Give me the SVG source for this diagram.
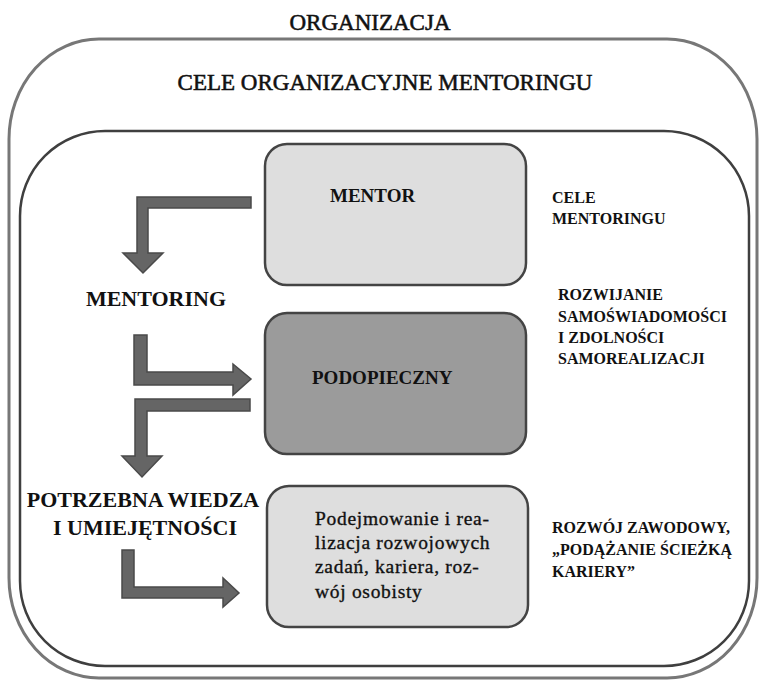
<svg xmlns="http://www.w3.org/2000/svg" width="760" height="681" viewBox="0 0 760 681">
<style>
.frame-outer{fill:none;stroke:#777;stroke-width:3}
.frame-inner{fill:none;stroke:#3f3f3f;stroke-width:2.5}
.box{stroke:#444;stroke-width:2.5}
.light{fill:#dedede}
.dark{fill:#9b9b9b}
.arrow{fill:#656565;stroke:#4a4a4a;stroke-width:1.5;stroke-linejoin:miter}
.title{font-family:"Liberation Serif",serif;font-size:23px;fill:#111;stroke:#111;stroke-width:0.55px;text-anchor:middle}
.lbl{font-family:"Liberation Serif",serif;font-weight:bold;fill:#111}
.big{font-size:22px}
.node{font-size:19px}
.side{font-size:16px}
.body{font-family:"Liberation Serif",serif;font-size:19.5px;letter-spacing:0.7px;fill:#111;stroke:#111;stroke-width:0.35px}
</style>
<rect id="organizacja-frame" class="frame-outer" x="9" y="39" width="748" height="639" rx="90" ry="100"/>
<rect id="cele-frame" class="frame-inner" x="20" y="131" width="729" height="535" rx="85" ry="85"/>
<text class="title" x="370" y="30">ORGANIZACJA</text>
<text class="title" x="385" y="90">CELE ORGANIZACYJNE MENTORINGU</text>

<g id="mentor">
<rect class="box light" x="265" y="144" width="261" height="141" rx="22"/>
<text class="lbl node" x="330" y="202">MENTOR</text>
</g>
<g id="podopieczny">
<rect class="box dark" x="265" y="313" width="261" height="141" rx="22"/>
<text class="lbl node" x="312" y="384">PODOPIECZNY</text>
</g>
<g id="zadania">
<rect class="box light" x="267" y="486" width="261" height="141" rx="22"/>
<text class="body" x="315" y="525">Podejmowanie i rea-</text>
<text class="body" x="315" y="549">lizacja rozwojowych</text>
<text class="body" x="315" y="573">zadań, kariera, roz-</text>
<text class="body" x="315" y="598">wój osobisty</text>
</g>

<g id="mentoring">
<text class="lbl big" x="156" y="306" text-anchor="middle">MENTORING</text>
</g>
<g id="wiedza">
<text class="lbl big" x="143" y="507" text-anchor="middle">POTRZEBNA WIEDZA</text>
<text class="lbl big" x="145" y="535" text-anchor="middle">I UMIEJĘTNOŚCI</text>
</g>

<g id="cele-mentoringu">
<text class="lbl side" x="552" y="203">CELE</text>
<text class="lbl side" x="552" y="224">MENTORINGU</text>
</g>
<g id="rozwijanie">
<text class="lbl side" x="558" y="300">ROZWIJANIE</text>
<text class="lbl side" x="558" y="322">SAMOŚWIADOMOŚCI</text>
<text class="lbl side" x="558" y="343">I ZDOLNOŚCI</text>
<text class="lbl side" x="558" y="364">SAMOREALIZACJI</text>
</g>
<g id="rozwoj">
<text class="lbl side" x="552" y="533">ROZWÓJ ZAWODOWY,</text>
<text class="lbl side" x="552" y="555">„PODĄŻANIE ŚCIEŻKĄ</text>
<text class="lbl side" x="552" y="577">KARIERY”</text>
</g>

<g id="connectors">
<path class="arrow" d="M251,197 L137,197 L137,253 L123,253 L143,273 L163,253 L148,253 L148,208 L251,208 Z"/>
<path class="arrow" d="M134,335 L147,335 L147,372 L233,372 L233,364 L251,379 L233,395 L233,385 L134,385 Z"/>
<path class="arrow" d="M250,399 L135,399 L135,456 L122,456 L142,477 L162,456 L147,456 L147,411 L250,411 Z"/>
<path class="arrow" d="M122,550 L134,550 L134,587 L223,587 L223,578 L239,593 L223,607 L223,598 L122,598 Z"/>
</g>
</svg>
